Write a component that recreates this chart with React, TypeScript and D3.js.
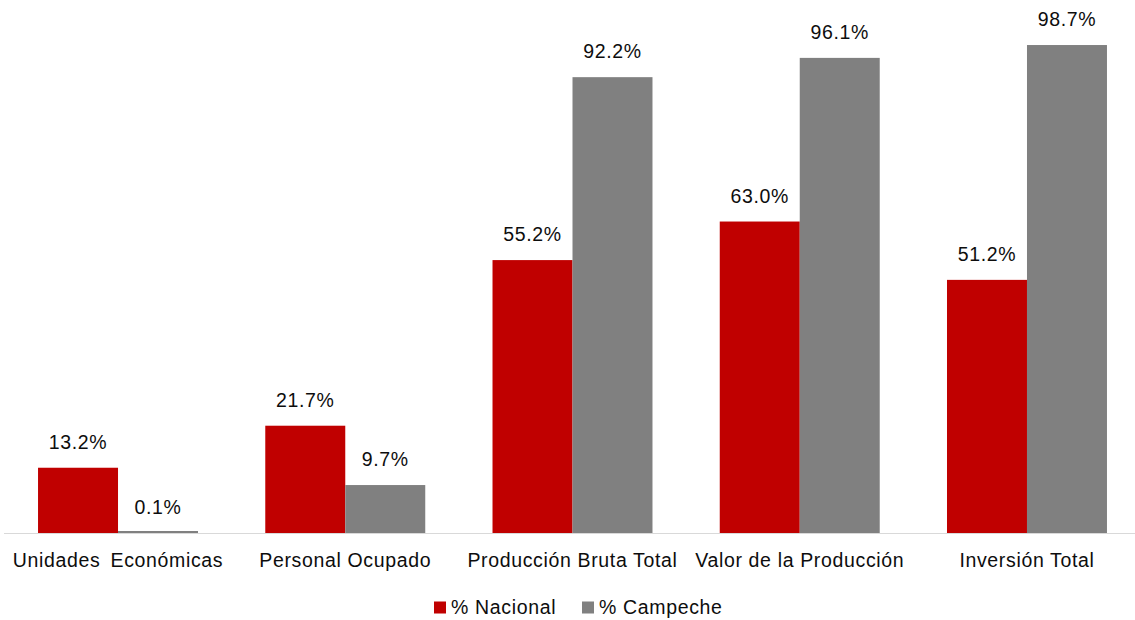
import React from "react";
import * as d3 from "d3";

const categories = [
  "Unidades Económicas",
  "Personal Ocupado",
  "Producción Bruta Total",
  "Valor de la Producción",
  "Inversión Total",
];
const seriesNames = ["% Nacional", "% Campeche"];
const nacional = [13.2, 21.7, 55.2, 63.0, 51.2];
const campeche = [0.1, 9.7, 92.2, 96.1, 98.7];
const colors = ["#C00000", "#808080"];

const W = 1135;
const H = 620;
const FONT = "'Liberation Sans', Arial, sans-serif";
const FS = 19.5;
const LS = 0.65;

export default function App() {
  const x = d3
    .scaleBand<string>()
    .domain(categories)
    .range([4.4, 1140.6])
    .paddingInner(0.296)
    .paddingOuter(0.148);
  const xs = d3.scaleBand<string>().domain(seriesNames).range([0, x.bandwidth()]);
  const y = d3.scaleLinear().domain([0, 100]).range([533, 38.6]);
  const series = [nacional, campeche];

  return (
    <div style={{ position: "absolute", left: 0, top: 0 }}>
      <svg width={W} height={H} style={{ display: "block", background: "#fff" }}>
        <line x1={4} x2={W} y1={533.5} y2={533.5} stroke="#D9D9D9" strokeWidth={1} />
        {categories.map((c, i) => (
          <g key={c}>
            {series.map((vals, s) => {
              const bx = (x(c) as number) + (xs(seriesNames[s]) as number);
              const by = Math.min(y(vals[i]), 531);
              return (
                <g key={s}>
                  <rect
                    x={bx}
                    y={by}
                    width={xs.bandwidth()}
                    height={y(0) - by}
                    fill={colors[s]}
                  />
                  <text
                    x={bx + xs.bandwidth() / 2}
                    y={y(vals[i]) - 19}
                    textAnchor="middle"
                    fontFamily={FONT}
                    fontSize={FS}
                    letterSpacing={LS}
                    fill="#0d0d0d"
                  >
                    {vals[i].toFixed(1) + "%"}
                  </text>
                </g>
              );
            })}
            <text
              x={(x(c) as number) + x.bandwidth() / 2}
              y={567}
              textAnchor="middle"
              fontFamily={FONT}
              fontSize={FS}
              letterSpacing={LS}
              wordSpacing={i === 0 ? 4 : 0}
              fill="#0d0d0d"
            >
              {c}
            </text>
          </g>
        ))}
        {seriesNames.map((n, s) => {
          const lx = [434, 582][s];
          return (
            <g key={n}>
              <rect x={lx} y={601.5} width={12} height={12} fill={colors[s]} />
              <text
                x={lx + 17}
                y={614}
                fontFamily={FONT}
                fontSize={FS}
                letterSpacing={LS}
                fill="#0d0d0d"
              >
                {n}
              </text>
            </g>
          );
        })}
      </svg>
    </div>
  );
}
